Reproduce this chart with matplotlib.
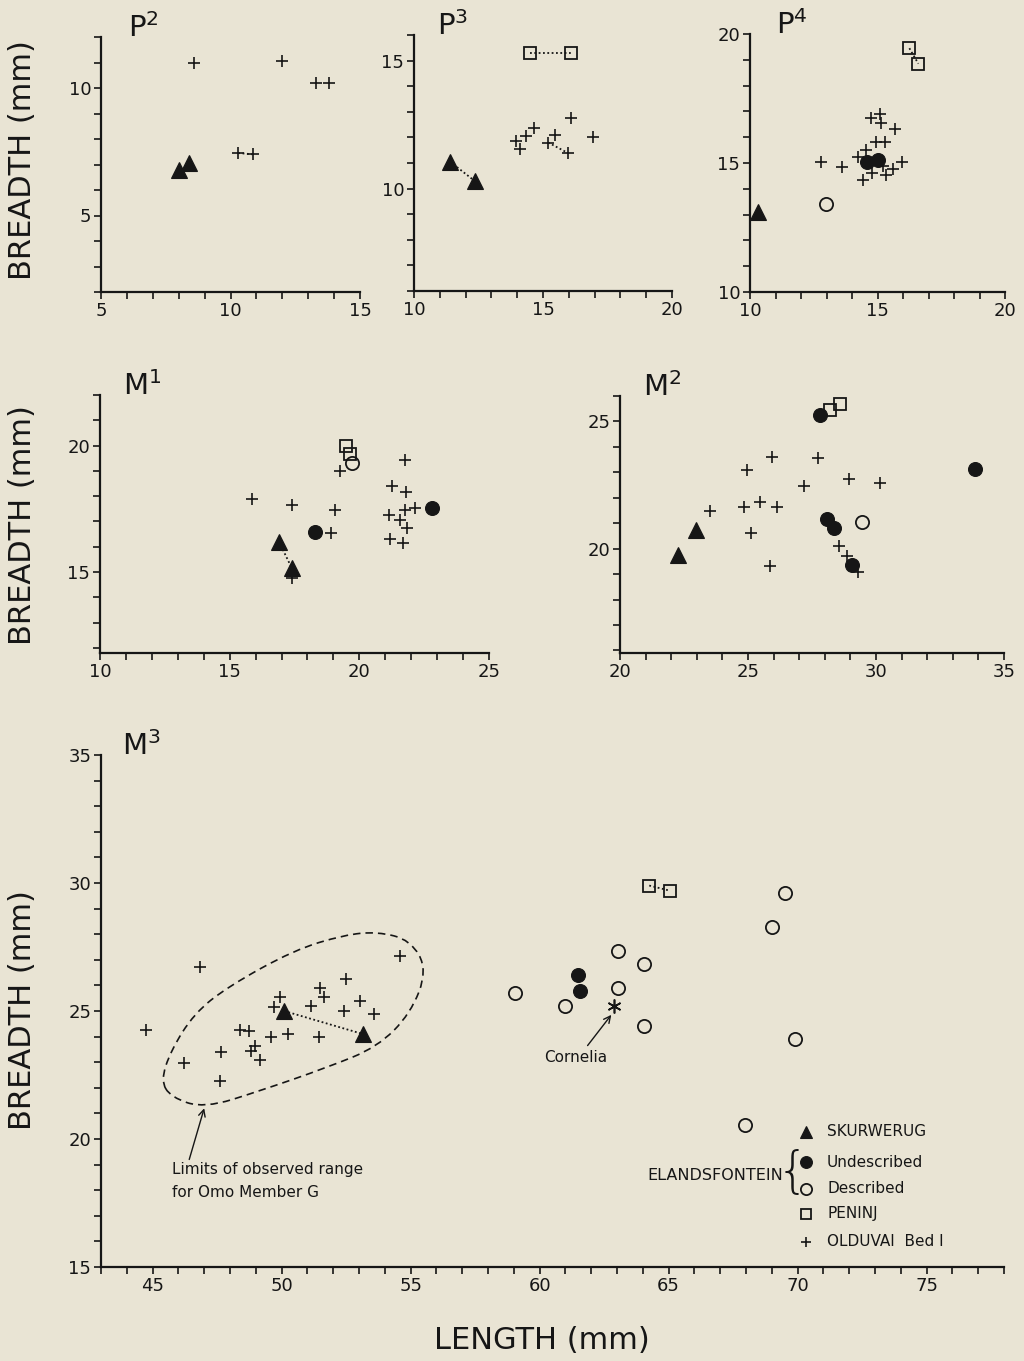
import matplotlib
matplotlib.use('Agg')
import matplotlib.pyplot as plt
from matplotlib.ticker import MultipleLocator
from matplotlib.path import Path
from matplotlib.patches import PathPatch

BG = '#e9e4d4'
INK = '#161616'

# ---- P2 ----
p2_skurwerug = [(8.0, 6.8), (8.4, 7.05)]
p2_olduvai = [(8.6, 11.0), (12.0, 11.05), (13.3, 10.2), (13.8, 10.2), (10.3, 7.45), (10.85, 7.4)]

# ---- P3 ----
p3_skurwerug = [(11.4, 11.05), (12.35, 10.3)]
p3_peninj = [(14.5, 15.3), (16.1, 15.3)]
p3_olduvai = [(13.95, 11.85), (14.1, 11.55), (14.35, 12.05), (14.65, 12.35), (15.45, 12.1),
              (15.2, 11.8), (15.95, 11.4), (16.1, 12.75), (16.95, 12.0)]

# ---- P4 ----
p4_skurwerug = [(10.33, 13.1)]
p4_described = [(12.97, 13.4)]
p4_undescribed = [(14.6, 15.05), (15.0, 15.1)]
p4_peninj = [(16.25, 19.45), (16.6, 18.85)]
p4_olduvai = [(12.8, 15.05), (13.6, 14.85), (14.25, 15.25), (14.55, 15.5), (14.45, 14.35),
              (14.8, 14.6), (14.75, 16.75), (15.1, 16.9), (15.15, 16.55), (14.95, 15.8),
              (15.3, 15.8), (15.7, 16.3), (15.2, 14.9), (15.35, 14.55), (15.6, 14.75), (15.95, 15.05)]

# ---- M1 ----
m1_skurwerug = [(16.9, 16.2), (17.4, 15.15)]
m1_undescribed = [(18.3, 16.6), (22.8, 17.55)]
m1_described = [(19.7, 19.3)]
m1_peninj = [(19.5, 20.0), (19.65, 19.65)]
m1_olduvai = [(15.85, 17.9), (17.4, 17.65), (19.05, 17.45), (19.25, 19.0), (18.9, 16.55),
              (21.75, 19.45), (21.25, 18.4), (21.8, 18.15), (21.15, 17.25), (21.55, 17.05),
              (21.75, 17.45), (22.15, 17.55), (21.85, 16.75), (21.2, 16.3), (21.7, 16.15), (17.4, 14.75)]

# ---- M2 ----
m2_skurwerug = [(22.25, 19.75), (22.95, 20.75)]
m2_undescribed = [(27.8, 25.25), (28.1, 21.15), (28.35, 20.8), (29.05, 19.35), (33.85, 23.15)]
m2_described = [(29.45, 21.05)]
m2_peninj = [(28.2, 25.45), (28.6, 25.7)]
m2_olduvai = [(23.5, 21.5), (24.85, 21.65), (25.45, 21.85), (26.15, 21.65), (25.1, 20.6),
              (24.95, 23.1), (25.95, 23.6), (27.75, 23.55), (27.2, 22.45), (28.95, 22.75),
              (30.15, 22.6), (28.55, 20.1), (28.85, 19.7), (29.3, 19.1), (25.85, 19.3)]

# ---- M3 ----
m3_skurwerug = [(50.1, 25.0), (53.15, 24.1)]
m3_undescribed = [(61.5, 26.4), (61.55, 25.8)]
m3_described = [(59.05, 25.7), (61.0, 25.2), (63.05, 27.35), (64.05, 26.85), (63.05, 25.9),
                (64.05, 24.4), (69.5, 29.6), (69.0, 28.3), (69.9, 23.9), (67.95, 20.55)]
m3_peninj = [(64.25, 29.9), (65.05, 29.7)]
m3_olduvai = [(46.85, 26.7), (44.75, 24.25), (46.2, 22.95), (47.65, 23.4), (47.6, 22.25),
              (48.4, 24.25), (48.75, 24.2), (48.95, 23.65), (48.8, 23.45), (49.15, 23.1),
              (49.6, 24.0), (50.25, 24.1), (49.7, 25.15), (49.95, 25.55), (51.15, 25.2),
              (51.5, 25.9), (51.65, 25.55), (51.45, 24.0), (52.5, 26.25), (52.4, 25.0),
              (53.05, 25.4), (53.6, 24.9), (54.6, 27.15)]
m3_cornelia = (62.9, 25.2)

# outline of the Omo Member G range (M3)
omo_x = [45.32, 45.71, 46.61, 47.9, 50.48, 52.42, 53.71, 55.0, 55.65, 55.0, 53.71, 51.78, 49.19, 47.0, 45.71]
omo_y = [22.28, 23.46, 24.9, 25.94, 27.38, 27.97, 28.1, 27.77, 26.6, 24.9, 23.59, 22.8, 21.89, 21.2, 21.63]

STYLES = {
    'sku': dict(marker='^', ms=11, mfc=INK, mec=INK, mew=0.8),
    'und': dict(marker='o', ms=10, mfc=INK, mec=INK, mew=0.8),
    'des': dict(marker='o', ms=9.5, mfc='none', mec=INK, mew=1.3),
    'pen': dict(marker='s', ms=8, mfc='none', mec=INK, mew=1.3),
    'old': dict(marker='+', ms=9, mec=INK, mew=1.2),
}

plt.rcParams['font.family'] = ['DejaVu Sans']
fig = plt.figure(figsize=(10.24, 13.61), dpi=100, facecolor=BG)


def make_axes(rect, xlim, ylim, title, tx):
    ax = fig.add_axes(rect)
    ax.set_facecolor(BG)
    ax.set_xlim(*xlim)
    ax.set_ylim(*ylim)
    for s in ('top', 'right'):
        ax.spines[s].set_visible(False)
    for s in ('left', 'bottom'):
        ax.spines[s].set_linewidth(1.6)
        ax.spines[s].set_color(INK)
    ax.xaxis.set_major_locator(MultipleLocator(5))
    ax.xaxis.set_minor_locator(MultipleLocator(1))
    ax.yaxis.set_major_locator(MultipleLocator(5))
    ax.yaxis.set_minor_locator(MultipleLocator(1))
    ax.tick_params(which='both', direction='out', length=5, width=1.2, color=INK,
                   labelsize=13, labelcolor=INK, pad=2)
    ax.text(tx, 1.0, title, transform=ax.transAxes, fontsize=21, color=INK,
            ha='left', va='baseline')
    return ax


def pts(ax, data, kind, links=()):
    for i, j in links:
        ax.plot([data[i][0], data[j][0]], [data[i][1], data[j][1]], ls=(0, (1, 1.4)),
                lw=1.3, color=INK, zorder=2)
    xs = [p[0] for p in data]
    ys = [p[1] for p in data]
    ax.plot(xs, ys, ls='none', zorder=3, clip_on=False, **STYLES[kind])


W, H = 1024, 1361


def rect(x0, x1, ytop, ybot):
    return [x0 / W, 1 - ybot / H, (x1 - x0) / W, (ybot - ytop) / H]


ax = make_axes(rect(101, 360, 37, 292), (5, 15), (2, 12), 'P$^{2}$', 0.104)
pts(ax, p2_olduvai, 'old', [(4, 5)])
pts(ax, p2_skurwerug, 'sku')

ax = make_axes(rect(414, 672, 35, 291), (10, 20), (6, 16), 'P$^{3}$', 0.089)
pts(ax, p3_olduvai, 'old', [(5, 6)])
pts(ax, p3_skurwerug, 'sku', [(0, 1)])
pts(ax, p3_peninj, 'pen', [(0, 1)])

ax = make_axes(rect(750, 1005, 34, 292), (10, 20), (10, 20), 'P$^{4}$', 0.102)
pts(ax, p4_olduvai, 'old')
pts(ax, p4_skurwerug, 'sku')
pts(ax, p4_described, 'des')
pts(ax, p4_undescribed, 'und')
pts(ax, p4_peninj, 'pen', [(0, 1)])

ax = make_axes(rect(100, 489, 395, 653), (10, 25), (11.8, 22), 'M$^{1}$', 0.059)
pts(ax, m1_olduvai, 'old')
pts(ax, m1_skurwerug, 'sku', [(0, 1)])
pts(ax, m1_undescribed, 'und')
pts(ax, m1_described, 'des')
pts(ax, m1_peninj, 'pen')

ax = make_axes(rect(620, 1004, 396, 653), (20, 35), (15.9, 26), 'M$^{2}$', 0.06)
pts(ax, m2_olduvai, 'old')
pts(ax, m2_skurwerug, 'sku')
pts(ax, m2_undescribed, 'und')
pts(ax, m2_described, 'des')
pts(ax, m2_peninj, 'pen')

ax = make_axes(rect(101, 1004, 755, 1267), (43, 78), (15, 35), 'M$^{3}$', 0.023)
pts(ax, m3_olduvai, 'old')
pts(ax, m3_skurwerug, 'sku', [(0, 1)])
pts(ax, m3_undescribed, 'und')
pts(ax, m3_described, 'des')
pts(ax, m3_peninj, 'pen', [(0, 1)])
ax.plot([m3_cornelia[0]], [m3_cornelia[1]], ls='none', marker=(6, 2, 0), ms=10,
        mec=INK, mew=1.2, zorder=3)

# Omo range outline, smooth closed curve through the read outline
n = len(omo_x)
mids = [((omo_x[i] + omo_x[(i + 1) % n]) / 2, (omo_y[i] + omo_y[(i + 1) % n]) / 2) for i in range(n)]
verts = [mids[-1]]
codes = [Path.MOVETO]
for i in range(n):
    verts += [(omo_x[i], omo_y[i]), mids[i]]
    codes += [Path.CURVE3, Path.CURVE3]
ax.add_patch(PathPatch(Path(verts, codes), fill=False, ec=INK, lw=1.2, ls=(0, (4.5, 3))))

arrow = dict(arrowstyle='->', lw=1.0, color=INK, shrinkA=0, shrinkB=0, mutation_scale=12)
ax.annotate('', xy=(47.0, 21.2), xytext=(46.42, 19.2), arrowprops=arrow)
ax.text(45.77, 19.1, 'Limits of observed range\nfor Omo Member G', fontsize=11,
        color=INK, ha='left', va='top', linespacing=1.7)
ax.annotate('', xy=(62.78, 24.85), xytext=(61.86, 23.65), arrowprops=arrow)
ax.text(61.39, 23.2, 'Cornelia', fontsize=11, color=INK, ha='center', va='center')

# legend
leg_rows = [('sku', 'SKURWERUG'), ('und', 'Undescribed'), ('des', 'Described'),
            ('pen', 'PENINJ'), ('old', 'OLDUVAI  Bed I')]
leg_y = [0.264, 0.205, 0.153, 0.104, 0.049]
for (kind, label), yy in zip(leg_rows, leg_y):
    st = dict(STYLES[kind])
    st['ms'] = st['ms'] * 0.85
    ax.plot([0.781], [yy], ls='none', transform=ax.transAxes, clip_on=False, **st)
    ax.text(0.804, yy, label, transform=ax.transAxes, fontsize=11, color=INK,
            ha='left', va='center')
ax.text(0.755, 0.179, 'ELANDSFONTEIN', transform=ax.transAxes, fontsize=11.5,
        color=INK, ha='right', va='center')
ax.text(0.7655, 0.184, '{', transform=ax.transAxes, fontsize=36, color=INK,
        ha='center', va='center', fontweight='light')

# axis titles
for yc in (0.8824, 0.6143, 0.2579):
    fig.text(0.0215, yc, 'BREADTH (mm)', rotation=90, fontsize=22, color=INK,
             ha='center', va='center')
fig.text(0.529, 0.0154, 'LENGTH (mm)', fontsize=22, color=INK, ha='center', va='center')

fig.savefig('out.png', dpi=100, facecolor=BG)
